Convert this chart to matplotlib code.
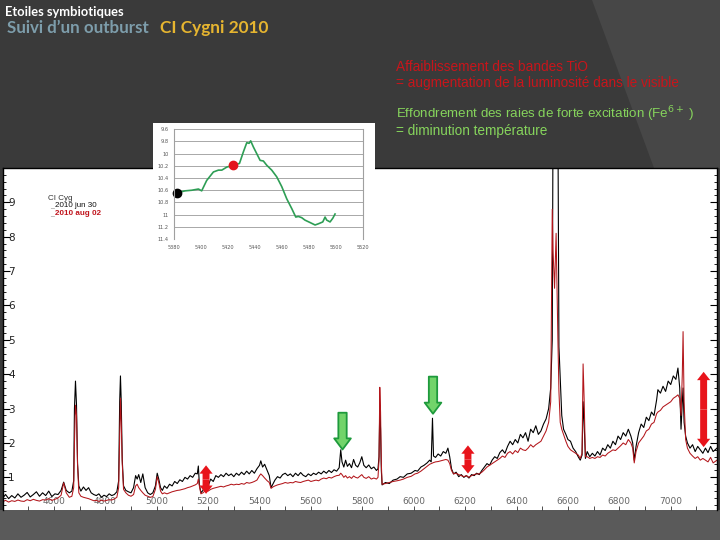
import matplotlib
matplotlib.use("Agg")
import matplotlib.pyplot as plt
from matplotlib.patches import Rectangle, Polygon
from matplotlib.ticker import MultipleLocator

# ---------------- data ----------------
wavelength = [
    4403, 4412, 4424, 4436, 4448, 4460, 4472, 4484, 4496, 4508,
    4520, 4532, 4544, 4556, 4568, 4580, 4592, 4604, 4616, 4628,
    4638, 4648, 4660, 4670, 4677, 4680, 4684, 4688, 4692, 4697,
    4705, 4715, 4725, 4735, 4745, 4755, 4765, 4775, 4785, 4795,
    4805, 4815, 4825, 4835, 4845, 4852, 4856, 4859, 4862, 4866,
    4871, 4880, 4890, 4900, 4910, 4918, 4924, 4930, 4938, 4946,
    4955, 4965, 4975, 4985, 4995, 5002, 5008, 5015, 5022, 5030,
    5040, 5050, 5060, 5070, 5080, 5090, 5100, 5110, 5120, 5130,
    5140, 5150, 5158, 5162, 5166, 5172, 5180, 5190, 5200, 5210,
    5220, 5230, 5240, 5250, 5260, 5270, 5280, 5290, 5300, 5310,
    5320, 5330, 5340, 5350, 5360, 5370, 5380, 5390, 5400, 5405,
    5412, 5420, 5430, 5438, 5445, 5452, 5460, 5470, 5480, 5490,
    5500, 5510, 5520, 5530, 5540, 5550, 5560, 5570, 5580, 5590,
    5600, 5610, 5620, 5630, 5640, 5650, 5660, 5670, 5680, 5690,
    5700, 5710, 5716, 5721, 5728, 5735, 5742, 5750, 5758, 5766,
    5774, 5782, 5790, 5798, 5806, 5815, 5825, 5835, 5845, 5855,
    5861, 5865, 5868, 5871, 5874, 5877, 5890, 5905, 5920, 5935,
    5947, 5960, 5975, 5990, 6005, 6015, 6028, 6040, 6052, 6062,
    6068, 6073, 6077, 6085, 6095, 6105, 6115, 6125, 6133, 6140,
    6147, 6155, 6165, 6175, 6185, 6195, 6205, 6215, 6225, 6235,
    6245, 6255, 6265, 6275, 6285, 6295, 6305, 6315, 6325, 6335,
    6345, 6355, 6365, 6375, 6385, 6395, 6405, 6415, 6425, 6435,
    6445, 6455, 6465, 6475, 6485, 6495, 6505, 6515, 6525, 6533,
    6539, 6542, 6548, 6554, 6561, 6565, 6570, 6576, 6583, 6592,
    6600, 6610, 6620, 6630, 6640, 6648, 6655, 6659, 6663, 6668,
    6675, 6685, 6695, 6705, 6715, 6725, 6735, 6745, 6755, 6765,
    6775, 6785, 6795, 6805, 6815, 6825, 6835, 6845, 6852, 6858,
    6865, 6875, 6885, 6895, 6905, 6915, 6925, 6935, 6945, 6950,
    6960, 6970, 6980, 6990, 7000, 7010, 7020, 7028, 7035, 7040,
    7045, 7048, 7052, 7058, 7065, 7075, 7085, 7095, 7105, 7115,
    7125, 7135, 7145, 7155, 7165, 7180,
]

flux_jun30 = [
    0.42, 0.50, 0.38, 0.47, 0.40, 0.52, 0.42, 0.48, 0.56, 0.43,
    0.50, 0.58, 0.45, 0.55, 0.47, 0.60, 0.44, 0.52, 0.50, 0.62,
    0.86, 0.62, 0.55, 0.60, 0.90, 3.00, 3.80, 3.10, 1.40, 0.75,
    0.60, 0.72, 0.62, 0.70, 0.55, 0.50, 0.47, 0.52, 0.42, 0.48,
    0.44, 0.52, 0.47, 0.50, 0.58, 0.90, 3.20, 3.95, 3.20, 1.50,
    0.75, 0.62, 0.58, 0.55, 0.70, 1.05, 0.95, 1.08, 0.85, 1.10,
    0.70, 0.55, 0.50, 0.55, 0.75, 1.12, 0.95, 0.70, 0.62, 0.75,
    0.68, 0.80, 0.75, 0.88, 0.82, 0.93, 0.88, 1.00, 0.95, 1.05,
    1.00, 1.12, 1.10, 1.33, 0.80, 0.55, 0.62, 0.85, 0.75, 0.95,
    0.88, 1.05, 1.00, 1.08, 1.02, 1.12, 1.05, 1.10, 1.02, 1.12,
    1.06, 1.15, 1.08, 1.18, 1.10, 1.20, 1.12, 1.25, 1.35, 1.48,
    1.30, 1.38, 1.20, 1.05, 0.70, 0.80, 0.92, 1.02, 0.98, 1.08,
    1.12, 1.05, 1.10, 1.02, 1.12, 1.05, 1.14, 1.06, 1.02, 1.10,
    1.05, 1.12, 1.08, 1.15, 1.10, 1.18, 1.12, 1.20, 1.14, 1.22,
    1.18, 1.28, 1.80, 1.45, 1.30, 1.50, 1.32, 1.40, 1.28, 1.52,
    1.35, 1.30, 1.42, 1.60, 1.35, 1.28, 1.36, 1.25, 1.30, 1.20,
    1.25, 1.60, 3.00, 2.40, 1.20, 0.78, 0.85, 0.82, 0.92, 0.95,
    1.02, 1.00, 1.10, 1.12, 1.20, 1.18, 1.30, 1.35, 1.42, 1.50,
    1.45, 2.72, 1.62, 1.58, 1.68, 1.62, 1.75, 1.70, 1.85, 1.60,
    1.25, 1.10, 1.15, 1.02, 1.08, 1.00, 1.05, 0.98, 1.08, 1.05,
    1.12, 1.08, 1.20, 1.30, 1.40, 1.35, 1.50, 1.60, 1.55, 1.72,
    1.80, 1.70, 1.90, 2.05, 1.95, 2.10, 2.00, 2.25, 2.15, 2.30,
    2.05, 2.40, 2.30, 2.50, 2.25, 2.35, 2.55, 2.70, 3.00, 3.60,
    5.00, 11.5, 11.5, 11.5, 11.5, 4.80, 3.90, 2.80, 2.40, 2.25,
    2.10, 2.05, 1.85, 1.75, 1.60, 1.50, 1.65, 3.20, 2.60, 1.55,
    1.75, 1.60, 1.70, 1.62, 1.75, 1.65, 1.85, 1.78, 1.95, 1.85,
    2.05, 1.95, 2.20, 2.10, 2.30, 2.20, 2.40, 2.20, 2.00, 1.50,
    1.90, 2.30, 2.55, 2.45, 2.75, 2.65, 2.90, 2.80, 3.25, 3.55,
    3.45, 3.65, 3.50, 3.80, 3.70, 3.95, 3.85, 4.18, 3.60, 2.40,
    3.20, 3.60, 2.60, 2.20, 2.00, 1.85, 1.95, 1.75, 1.90, 1.80,
    1.70, 1.85, 1.72, 1.90, 1.75, 1.85,
]

flux_aug02 = [
    0.30, 0.33, 0.28, 0.32, 0.30, 0.34, 0.31, 0.30, 0.35, 0.32,
    0.36, 0.33, 0.31, 0.35, 0.34, 0.38, 0.33, 0.36, 0.40, 0.48,
    0.84, 0.55, 0.42, 0.45, 0.70, 2.00, 3.10, 2.80, 1.40, 0.55,
    0.45, 0.42, 0.40, 0.38, 0.35, 0.32, 0.33, 0.30, 0.34, 0.31,
    0.33, 0.35, 0.34, 0.37, 0.42, 0.70, 2.20, 3.30, 2.60, 1.40,
    0.65, 0.55, 0.48, 0.45, 0.50, 0.75, 0.80, 0.70, 0.62, 0.55,
    0.48, 0.45, 0.42, 0.44, 0.65, 1.02, 0.85, 0.60, 0.52, 0.55,
    0.52, 0.55, 0.58, 0.60, 0.62, 0.63, 0.65, 0.67, 0.70, 0.72,
    0.75, 0.78, 0.82, 0.95, 0.75, 0.52, 0.55, 0.62, 0.60, 0.65,
    0.68, 0.70, 0.72, 0.74, 0.72, 0.75, 0.77, 0.80, 0.78, 0.80,
    0.79, 0.82, 0.80, 0.85, 0.83, 0.85, 0.88, 0.92, 1.05, 1.10,
    1.05, 0.98, 0.90, 0.85, 0.68, 0.72, 0.75, 0.78, 0.80, 0.82,
    0.85, 0.83, 0.85, 0.84, 0.88, 0.86, 0.85, 0.88, 0.90, 0.92,
    0.88, 0.90, 0.92, 0.90, 0.95, 0.98, 0.96, 1.00, 0.98, 1.02,
    1.05, 1.06, 1.12, 1.08, 1.00, 1.05, 0.98, 1.02, 0.97, 1.04,
    1.00, 0.98, 1.03, 1.08, 1.00, 0.97, 1.02, 0.95, 0.98, 0.95,
    1.00, 1.50, 3.62, 2.90, 1.40, 0.80, 0.82, 0.85, 0.88, 0.90,
    0.92, 0.95, 1.00, 1.03, 1.10, 1.12, 1.18, 1.25, 1.32, 1.38,
    1.40, 1.42, 1.43, 1.45, 1.46, 1.48, 1.50, 1.52, 1.50, 1.40,
    1.20, 1.10, 1.12, 1.08, 1.05, 1.02, 1.05, 1.00, 1.05, 1.08,
    1.10, 1.10, 1.15, 1.22, 1.30, 1.35, 1.40, 1.45, 1.50, 1.55,
    1.62, 1.58, 1.70, 1.75, 1.68, 1.78, 1.72, 1.85, 1.80, 1.78,
    1.85, 1.95, 1.88, 1.95, 2.00, 2.05, 2.20, 2.35, 2.60, 3.20,
    8.80, 7.60, 6.50, 8.10, 5.00, 3.50, 2.60, 2.40, 2.25, 2.05,
    1.90, 1.80, 1.75, 1.70, 1.65, 1.55, 1.70, 4.30, 3.30, 1.60,
    1.60, 1.55, 1.58, 1.55, 1.60, 1.58, 1.65, 1.62, 1.70, 1.75,
    1.80, 1.78, 1.85, 1.92, 2.00, 1.95, 2.10, 2.00, 1.85, 1.42,
    1.75, 2.00, 2.10, 2.20, 2.35, 2.40, 2.55, 2.60, 2.85, 2.90,
    2.95, 3.05, 3.10, 3.15, 3.20, 3.30, 3.35, 3.40, 3.30, 2.80,
    4.00, 5.24, 3.20, 2.10, 1.85, 1.70, 1.62, 1.55, 1.60, 1.50,
    1.55, 1.50, 1.45, 1.58, 1.42, 1.50,
]

x_ticks = [4600, 4800, 5000, 5200, 5400, 5600, 5800, 6000, 6200, 6400, 6600, 6800, 7000]
y_ticks = [1, 2, 3, 4, 5, 6, 7, 8, 9]

# double red arrows (wavelength, low flux, high flux)
red_arrow_wl = [5192, 6211, 7128]
red_arrow_lo = [0.52, 1.11, 1.88]
red_arrow_hi = [1.35, 1.93, 4.07]
# green down arrows (wavelength, top flux, tip flux)
green_arrow_wl = [5723, 6075]
green_arrow_top = [2.88, 3.93]
green_arrow_tip = [1.81, 2.85]

# light curve inset
inset_day = [5382.5, 5388.2, 5393.1, 5398.1, 5400.5, 5404.2, 5409.2, 5412.9, 5415.4, 5419.1,
             5424.0, 5428.5, 5431.4, 5433.9, 5435.6, 5436.8, 5438.8, 5441.3, 5443.8, 5446.2,
             5448.7, 5452.4, 5456.1, 5459.8, 5463.5, 5467.2, 5470.2, 5472.1, 5474.6, 5477.0,
             5480.8, 5484.5, 5487.0, 5490.2, 5491.9, 5493.1, 5495.6, 5497.6, 5499.3]
inset_mag = [10.64, 10.61, 10.60, 10.58, 10.61, 10.44, 10.30, 10.27, 10.27, 10.22,
             10.19, 10.16, 9.97, 9.82, 9.83, 9.79, 9.89, 10.00, 10.11, 10.12,
             10.19, 10.27, 10.38, 10.54, 10.74, 10.90, 11.04, 11.03, 11.05, 11.09,
             11.13, 11.17, 11.15, 11.12, 11.04, 11.09, 11.12, 11.06, 10.99]
jun30_day, jun30_mag = 5382.5, 10.64
aug02_day, aug02_mag = 5424.0, 10.19
inset_xticks = [5380, 5400, 5420, 5440, 5460, 5480, 5500, 5520]
inset_yticks = [9.6, 9.8, 10.0, 10.2, 10.4, 10.6, 10.8, 11.0, 11.2, 11.4]

# ---------------- figure ----------------
W, H = 720, 540
fig = plt.figure(figsize=(7.2, 5.4), dpi=100, facecolor="#3a3a3a")


def fx(px):
    return px / W


def fy(py):
    return 1 - py / H


# lighter diagonal region on the right and bottom band
fig.patches.append(Polygon([(fx(592), fy(0)), (1, 1), (1, fy(168)), (fx(654), fy(168))],
                           closed=True, transform=fig.transFigure, fc="#474747",
                           ec="none", zorder=-2))
fig.patches.append(Rectangle((0, 0), 1, fy(510), transform=fig.transFigure,
                             fc="#5a5a5a", ec="none", zorder=-2))

# main spectrum axes
ax = fig.add_axes([fx(3), fy(510), fx(714), fy(168) - fy(510)], zorder=0)
ax.set_facecolor("white")
ax.plot(wavelength, flux_jun30, color="black", lw=0.8)
ax.plot(wavelength, flux_aug02, color="#b3161b", lw=0.75)
ax.set_xlim(4402, 7180)
ax.set_ylim(0.05, 10.0)
ax.set_xticks(x_ticks)
ax.xaxis.set_minor_locator(MultipleLocator(100))
ax.set_yticks(y_ticks)
ax.yaxis.set_minor_locator(MultipleLocator(0.2))
ax.tick_params(axis="x", which="both", direction="in", bottom=True, top=False,
               labeltop=False, pad=-9.5, labelsize=6.5, labelcolor="#666666",
               length=3, width=0.6, color="#333333")
ax.tick_params(axis="y", which="major", direction="in", left=True, right=True,
               pad=-8.5, labelsize=7.5, labelcolor="#222222", length=5, width=0.8)
ax.tick_params(axis="y", which="minor", direction="in", left=True, right=True,
               length=2.5, width=0.6)
for s in ["left", "right", "top"]:
    ax.spines[s].set_linewidth(1.0)
ax.spines["bottom"].set_visible(False)

# legend-like labels
ax.text(0.063, 0.912, "CI Cyg", transform=ax.transAxes, fontsize=5.8,
        color="#333333", ha="left", va="center", family="Liberation Sans")
ax.text(0.0655, 0.892, "_", transform=ax.transAxes, fontsize=5.5,
        color="#aaaaaa", ha="left", va="center")
ax.text(0.0655, 0.869, "_", transform=ax.transAxes, fontsize=5.5,
        color="#aaaaaa", ha="left", va="center")
ax.text(0.073, 0.889, "2010 jun 30", transform=ax.transAxes, fontsize=5.8,
        color="#111111", ha="left", va="center", family="Liberation Sans")
ax.text(0.073, 0.866, "2010 aug 02", transform=ax.transAxes, fontsize=5.8,
        color="#c0141c", ha="left", va="center", family="Liberation Sans",
        fontweight="bold")

# arrows
red_style = "simple,head_length=0.6,head_width=0.95,tail_width=0.5"
for wl, lo, hi in zip(red_arrow_wl, red_arrow_lo, red_arrow_hi):
    mid = (lo + hi) / 2
    for end in (lo, hi):
        ax.annotate("", xy=(wl, end), xytext=(wl, mid),
                    arrowprops=dict(arrowstyle=red_style, fc="#e8141b", ec="none",
                                    lw=0, mutation_scale=10, shrinkA=0, shrinkB=0))
for wl, top, tip in zip(green_arrow_wl, green_arrow_top, green_arrow_tip):
    ax.annotate("", xy=(wl, tip), xytext=(wl, top),
                arrowprops=dict(arrowstyle="simple,head_length=0.8,head_width=1.2,tail_width=0.6",
                                fc="#72d46a", ec="#1e9a3c", lw=1.3, mutation_scale=10,
                                shrinkA=0, shrinkB=0))

# inset white panel
fig.patches.append(Rectangle((fx(153), fy(258)), fx(222), fy(123) - fy(258),
                             transform=fig.transFigure, fc="white", ec="none", zorder=1))
axi = fig.add_axes([fx(174), fy(239), fx(189), fy(129.3) - fy(239)], zorder=2)
axi.set_facecolor("white")
axi.set_xlim(5380, 5520)
axi.set_ylim(11.4, 9.6)
axi.set_xticks(inset_xticks)
axi.set_yticks(inset_yticks)
axi.set_yticklabels([f"{v:g}" for v in inset_yticks])
axi.grid(axis="y", color="#a8a8a8", lw=0.7)
axi.set_axisbelow(True)
axi.tick_params(length=0, labelsize=3.6, labelcolor="#555555", pad=4)
for s in ["top", "bottom"]:
    axi.spines[s].set_visible(False)
for s in ["left", "right"]:
    axi.spines[s].set_color("#a0a0a0")
    axi.spines[s].set_linewidth(0.8)
axi.plot(inset_day, inset_mag, color="#2e9e55", lw=1.2)
axi.plot([jun30_day], [jun30_mag], "o", color="black", ms=6, clip_on=False)
axi.plot([aug02_day], [aug02_mag], "o", color="#e3141b", ms=6, clip_on=False)

# slide texts
fig.text(fx(5), fy(12), "Etoiles symbiotiques", color="white", fontsize=9.3,
         fontweight="bold", family="Lato", ha="left", va="center")
fig.text(fx(7), fy(28), "Suivi d\u2019un outburst", color="#7d9dab", fontsize=12.2,
         fontweight="bold", family="Lato", ha="left", va="center")
fig.text(fx(160), fy(28), "CI Cygni 2010", color="#e6b530", fontsize=12.4,
         fontweight="bold", family="Lato", ha="left", va="center")
fig.text(fx(396), fy(67), "Affaiblissement des bandes TiO", color="#c8151b",
         fontsize=9.8, family="Liberation Sans", ha="left", va="center")
fig.text(fx(396), fy(83), "= augmentation de la luminosit\u00e9 dans le visible",
         color="#c8151b", fontsize=9.8, family="Liberation Sans", ha="left", va="center")
fig.text(fx(396), fy(114), "Effondrement des raies de forte excitation (Fe$^{6+}$ )",
         color="#86d45c", fontsize=9.6, family="Liberation Sans", ha="left", va="center")
fig.text(fx(396), fy(131.5), "= diminution temp\u00e9rature", color="#86d45c",
         fontsize=9.8, family="Liberation Sans", ha="left", va="center")

fig.savefig("out.png", dpi=100, facecolor=fig.get_facecolor())
